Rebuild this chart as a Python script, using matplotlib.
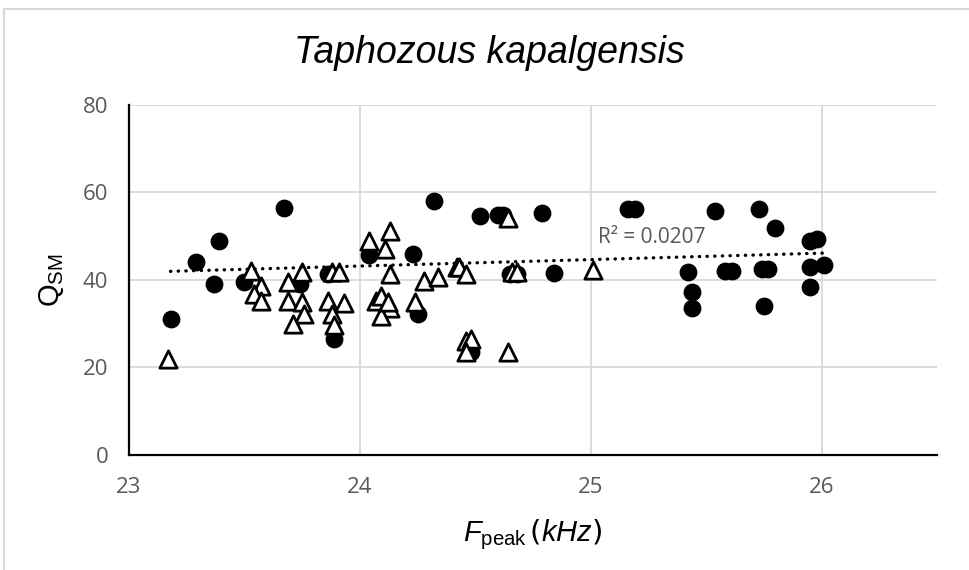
import numpy as np
import matplotlib.pyplot as plt
from matplotlib.lines import Line2D

# filled circles
circ_x = [23.18, 23.29, 23.39, 23.37, 23.67, 23.50, 23.74, 23.86, 23.89, 24.04,
          24.32, 24.23, 24.25, 24.52, 24.60, 24.62, 24.79, 24.65, 24.68, 24.84,
          24.48, 25.16, 25.19, 25.54, 25.73, 25.80, 25.95, 25.98, 25.42, 25.44,
          25.44, 25.58, 25.61, 25.74, 25.77, 25.75, 25.95, 26.01, 25.95]
circ_y = [31.1, 44.2, 49.0, 39.1, 56.5, 39.5, 39.1, 41.4, 26.5, 45.7,
          58.1, 45.9, 32.2, 54.7, 54.9, 54.9, 55.3, 41.4, 41.4, 41.6,
          23.5, 56.2, 56.2, 55.7, 56.2, 51.9, 49.0, 49.4, 41.9, 37.2,
          33.7, 42.1, 42.1, 42.5, 42.5, 34.1, 42.9, 43.4, 38.3]

# open triangles
tri_x = [23.17, 23.53, 23.57, 23.54, 23.57, 23.69, 23.75, 23.69, 23.75, 23.76,
         23.71, 23.88, 23.91, 23.86, 23.93, 23.88, 23.89, 24.04, 24.13, 24.11,
         24.13, 24.28, 24.34, 24.24, 24.07, 24.09, 24.13, 24.09, 24.12, 24.42,
         24.43, 24.46, 24.64, 24.66, 24.68, 24.46, 24.48, 24.46, 24.64, 25.01]
tri_y = [21.9, 42.1, 38.7, 36.8, 35.3, 39.5, 41.8, 35.3, 34.9, 32.2,
         29.9, 41.9, 41.9, 35.3, 34.7, 32.2, 29.6, 49.0, 51.3, 47.1,
         41.4, 39.8, 40.6, 35.0, 35.3, 36.4, 33.7, 31.8, 34.9, 42.9,
         42.9, 41.4, 54.1, 41.8, 41.8, 26.1, 26.5, 23.5, 23.5, 42.3]

x_ticks = [23, 24, 25, 26]
y_ticks = [0, 20, 40, 60, 80]
r2_label = "R² = 0.0207"

plt.rcParams['mathtext.fontset'] = 'custom'
plt.rcParams['mathtext.rm'] = 'Liberation Sans'
plt.rcParams['mathtext.it'] = 'Liberation Sans:italic'

fig = plt.figure(figsize=(9.69, 5.70), dpi=100)
ax = fig.add_axes([0.1331, 0.2018, 0.8339, 0.614])

ax.scatter(circ_x, circ_y, s=140, marker='o', color='black', zorder=3)
ax.scatter(tri_x, tri_y, s=155, marker='^', facecolor='white',
           edgecolor='black', linewidths=2.0, zorder=4)

# linear trendline on the circle series
k, b = np.polyfit(circ_x, circ_y, 1)
tx = np.array([min(circ_x), max(circ_x)])
ax.plot(tx, k * tx + b, color='black', lw=2.4, linestyle=(0, (0.1, 2.2)),
        dash_capstyle='round', zorder=5)
ax.text(25.03, 49.8, r2_label, fontsize=15, color='#595959', family='Open Sans',
        va='center', ha='left', zorder=6)

ax.set_xlim(23, 26.5)
ax.set_ylim(0, 80)
ax.set_xticks(x_ticks)
ax.set_yticks(y_ticks)
ax.grid(True, color='#d9d9d9', lw=1.3)
ax.set_axisbelow(True)
for s in ['top', 'right']:
    ax.spines[s].set_visible(False)
for s in ['left', 'bottom']:
    ax.spines[s].set_linewidth(1.6)
    ax.spines[s].set_color('black')
ax.tick_params(length=0, labelsize=16, labelcolor='#595959')
ax.tick_params(axis='y', pad=15)
ax.tick_params(axis='x', pad=16)
for lab in ax.get_xticklabels() + ax.get_yticklabels():
    lab.set_family('Open Sans')

fig.text(0.505, 1 - 63 / 570, 'Taphozous kapalgensis', fontsize=27,
         style='italic', family='Liberation Sans', ha='center', va='baseline')
ax.set_xlabel(r'$\mathit{F}_{\mathrm{peak}}$$\,$($\mathit{kHz}$)', fontsize=21,
              labelpad=14)
ax.set_ylabel(r'$\mathrm{Q}_{\mathrm{SM}}$', fontsize=21, labelpad=12)

# outer chart border (only top and left visible)
fig.add_artist(Line2D([4 / 969, 1], [1 - 9 / 570, 1 - 9 / 570], color='#d9d9d9', lw=1.5))
fig.add_artist(Line2D([4 / 969, 4 / 969], [0, 1 - 9 / 570], color='#d9d9d9', lw=1.5))

fig.savefig('out.png', dpi=100)
